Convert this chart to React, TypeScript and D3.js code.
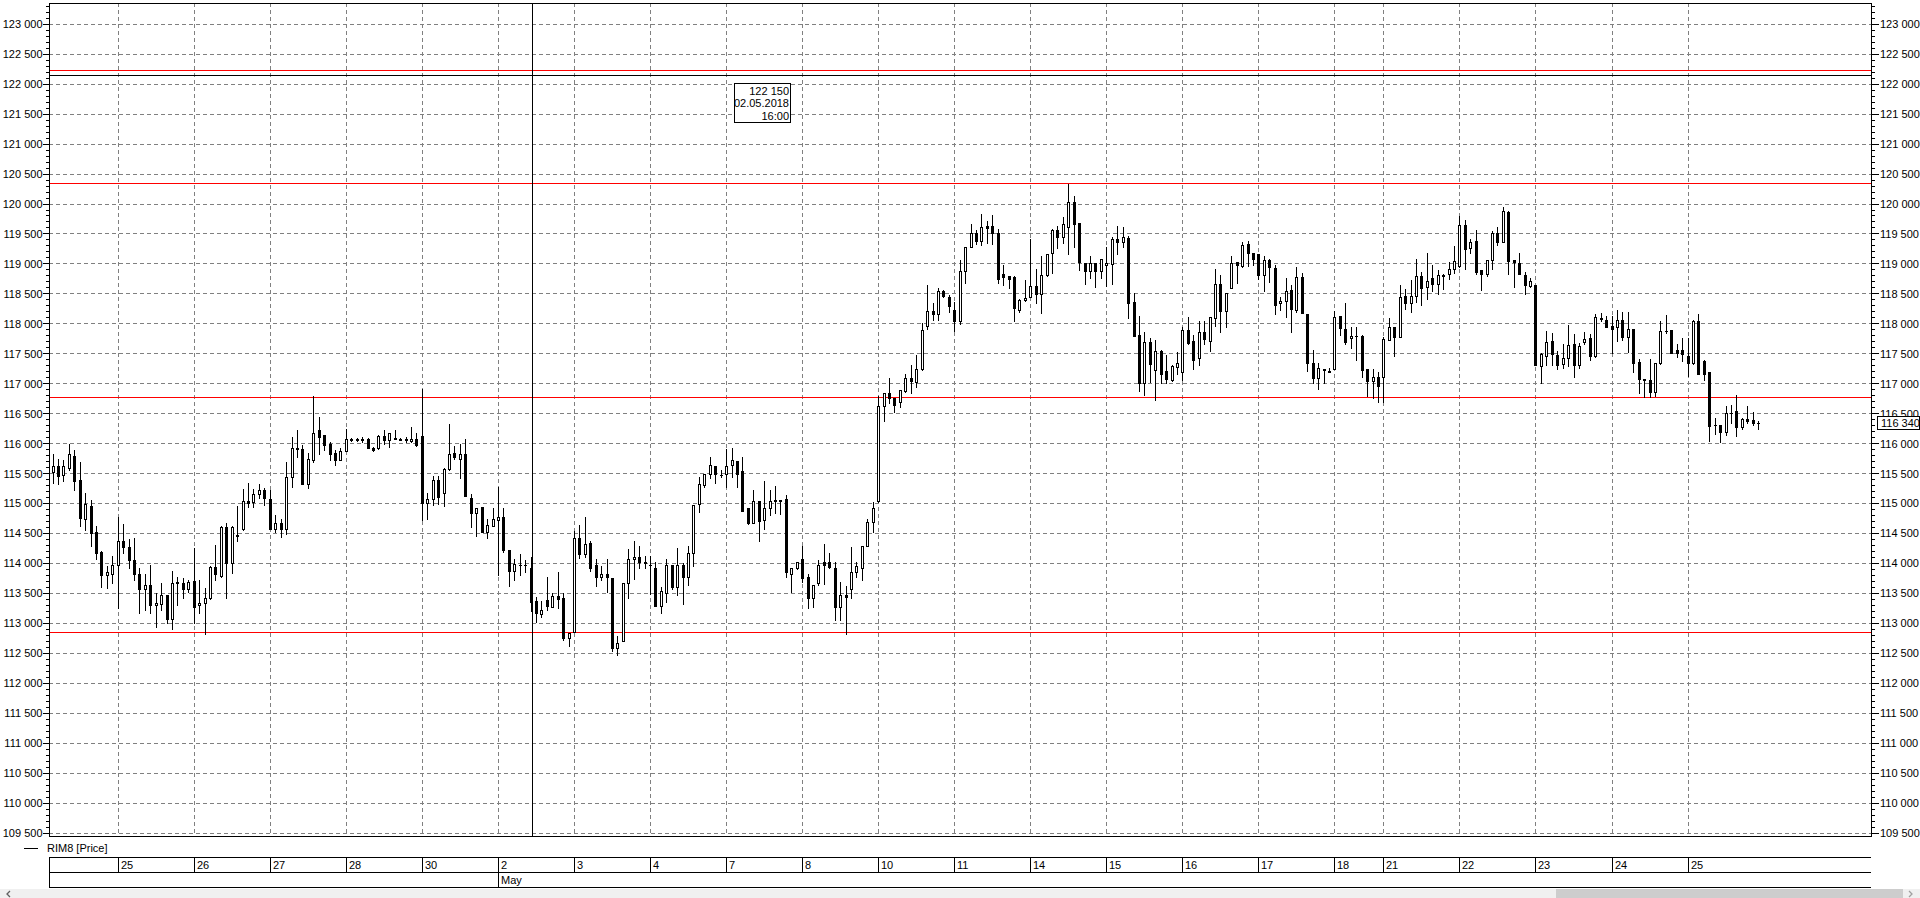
import React from "react";
import * as d3 from "d3";

// ---------- data ----------
const dayLabels = ["24", "25", "26", "27", "28", "30", "2", "3", "4", "7", "8", "10", "11", "14", "15", "16", "17", "18", "21", "22", "23", "24", "25"];
const dayCounts = [12, 14, 14, 14, 14, 14, 14, 14, 14, 14, 14, 14, 14, 14, 14, 14, 14, 9, 14, 14, 14, 14, 14];
const dayShown = [false, true, true, true, true, true, true, true, true, true, true, true, true, true, true, true, true, true, true, true, true, true, true];
const monthNames = ["May"];
const monthStartDay = [6];

// [open, high, low, close] hourly candles
const candles: [number, number, number, number][] = [
  [115520, 115820, 115340, 115620], [115620, 115750, 115320, 115460], [115470, 115720, 115370, 115630], [115600, 116000, 115560, 115820],
  [115790, 115900, 115230, 115370], [115390, 115690, 114630, 114760], [114740, 115180, 114560, 115000], [114960, 115060, 114290, 114510],
  [114530, 114620, 114080, 114180], [114190, 114200, 113610, 113810], [113810, 113960, 113590, 113850], [113830, 114120, 113680, 113970],
  [113970, 114780, 113260, 114370], [114380, 114660, 114180, 114280], [114270, 114400, 113930, 114050], [114050, 114420, 113730, 113820],
  [113820, 113930, 113170, 113580], [113580, 113820, 113220, 113640], [113640, 113970, 113170, 113300], [113300, 113500, 112940, 113340],
  [113330, 113670, 113220, 113470], [113470, 113470, 113000, 113080], [113080, 113870, 112910, 113680], [113680, 113780, 113310, 113690],
  [113680, 113750, 113430, 113580], [113580, 113720, 113530, 113690], [113710, 114260, 113010, 113270], [113300, 113720, 113170, 113340],
  [113340, 113590, 112830, 113420], [113420, 113960, 113400, 113940], [113940, 114310, 113730, 113820], [113790, 114620, 113780, 114600],
  [114600, 114670, 113430, 114000], [114010, 114620, 113840, 114600], [114460, 114960, 114380, 114480], [114570, 115240, 114560, 115050],
  [115050, 115350, 114940, 115010], [115020, 115250, 114940, 115160], [115160, 115320, 115100, 115230], [115230, 115260, 114980, 115100],
  [115070, 115230, 114570, 114580], [114580, 114810, 114530, 114680], [114680, 114740, 114440, 114580], [114580, 115690, 114490, 115440],
  [115440, 116110, 115280, 115930], [115930, 116220, 115780, 115910], [115910, 115970, 115330, 115330], [115330, 115840, 115260, 115740],
  [115730, 116790, 115690, 116180], [116220, 116440, 115820, 116110], [116140, 116140, 115890, 115980], [115990, 116030, 115730, 115830],
  [115840, 115890, 115640, 115720], [115730, 115920, 115720, 115870], [115880, 116250, 115870, 116080], [116060, 116100, 116040, 116070],
  [116070, 116090, 116040, 116060], [116060, 116110, 116030, 116070], [116080, 116090, 115920, 115920], [115920, 115940, 115870, 115890],
  [115920, 116140, 115910, 116130], [116130, 116220, 116000, 116060], [116060, 116180, 115940, 116180], [116080, 116220, 116070, 116090],
  [116070, 116090, 116060, 116065], [116070, 116110, 116030, 116060], [116040, 116270, 116030, 116080], [116080, 116180, 115960, 115970],
  [116120, 116920, 114720, 115010], [115010, 115180, 114740, 115080], [115080, 115460, 114970, 115390], [115400, 115460, 115000, 115110],
  [115170, 115600, 114960, 115580], [115580, 116320, 115560, 115830], [115850, 115960, 115750, 115770], [115750, 116000, 115430, 115830],
  [115830, 116080, 115130, 115130], [115100, 115160, 114610, 114840], [114840, 114930, 114460, 114930], [114940, 114940, 114530, 114530],
  [114520, 114750, 114430, 114640], [114630, 114930, 114630, 114740], [114720, 115280, 113810, 114770], [114770, 114930, 114190, 114220],
  [114220, 114220, 113630, 113880], [113880, 114070, 113720, 113990], [113970, 114160, 113810, 113970], [113970, 114060, 113850, 113980],
  [113930, 114110, 113210, 113360], [113370, 113440, 113030, 113170], [113150, 113370, 113100, 113220], [113390, 113780, 113230, 113290],
  [113280, 113500, 113280, 113460], [113460, 113850, 113250, 113410], [113420, 113500, 112730, 112750], [112760, 112840, 112620, 112840],
  [112860, 114540, 112860, 114430], [114430, 114640, 114090, 114160], [114160, 114770, 114110, 114320], [114340, 114370, 113880, 113930],
  [113970, 114070, 113630, 113780], [113780, 113960, 113720, 113820], [113820, 114070, 113520, 113770], [113750, 113750, 112530, 112590],
  [112590, 112790, 112470, 112670], [112710, 113680, 112710, 113680], [113670, 114240, 113430, 114080], [114080, 114380, 113740, 114100],
  [114110, 114290, 113920, 114030], [114030, 114130, 113930, 114000], [113970, 114130, 113490, 113970], [113930, 114020, 113290, 113290],
  [113290, 113610, 113170, 113540], [113510, 114070, 113360, 113980], [113980, 113980, 113580, 113610], [113610, 114250, 113470, 113970],
  [113970, 114000, 113320, 113770], [113770, 114290, 113640, 114170], [114170, 114970, 113960, 114970], [115000, 115440, 114860, 115320],
  [115310, 115490, 115270, 115490], [115490, 115770, 115420, 115650], [115630, 115630, 115340, 115490], [115480, 115560, 115440, 115480],
  [115490, 115910, 115280, 115630], [115650, 115930, 115440, 115720], [115710, 115710, 115280, 115490], [115540, 115770, 114880, 114880],
  [114920, 114920, 114660, 114670], [114680, 115220, 114680, 115040], [115040, 115040, 114380, 114710], [114720, 115380, 114570, 114930],
  [114920, 115220, 114810, 115040], [115050, 115290, 114850, 115060], [115060, 115060, 114820, 115050], [115070, 115150, 113770, 113860],
  [113830, 113920, 113530, 113920], [113920, 114030, 113910, 114020], [114070, 114290, 113690, 113760], [113770, 113830, 113250, 113420],
  [113420, 113640, 113280, 113640], [113670, 114060, 113640, 113980], [114020, 114320, 113650, 113980], [114020, 114170, 113920, 113940],
  [113920, 114020, 113060, 113270], [113270, 113690, 113060, 113480], [113480, 113620, 112830, 113440], [113570, 114280, 113430, 113850],
  [113850, 114020, 113780, 113960], [113930, 114290, 113730, 114290], [114290, 114750, 114290, 114690], [114690, 115030, 114530, 114930],
  [115040, 116800, 115030, 116620], [116620, 116840, 116370, 116840], [116840, 117090, 116670, 116760], [116760, 116760, 116530, 116640],
  [116690, 116890, 116610, 116890], [116880, 117170, 116870, 117100], [117100, 117310, 116850, 117050], [117030, 117480, 116950, 117240],
  [117240, 118010, 117230, 117890], [117960, 118640, 117920, 118210], [118210, 118340, 118060, 118160], [118160, 118590, 118070, 118540],
  [118540, 118560, 118450, 118460], [118450, 118480, 118200, 118290], [118230, 118370, 117880, 118050], [118050, 119070, 117990, 118880],
  [118880, 119290, 118680, 119290], [119290, 119670, 119290, 119520], [119520, 119570, 119340, 119380], [119380, 119830, 119310, 119620],
  [119630, 119710, 119350, 119600], [119630, 119810, 119340, 119520], [119520, 119590, 118680, 118740], [118840, 118980, 118640, 118780],
  [118790, 118790, 118600, 118750], [118780, 118790, 118040, 118260], [118230, 118410, 118200, 118390], [118390, 118730, 118380, 118430],
  [118450, 119410, 118450, 118630], [118630, 118910, 118340, 118490], [118490, 119130, 118180, 118810], [118810, 119170, 118790, 119160],
  [119190, 119590, 118850, 119560], [119560, 119640, 119270, 119450], [119450, 119780, 119350, 119660], [119620, 120340, 119170, 120040],
  [120040, 120130, 119290, 119670], [119690, 119690, 118900, 119030], [119010, 119010, 118670, 118890], [118890, 119130, 118760, 119010],
  [119010, 119010, 118620, 118890], [118890, 119090, 118770, 119090], [118990, 119290, 118630, 119020], [119000, 119450, 118670, 119410],
  [119410, 119630, 119160, 119370], [119370, 119610, 119280, 119450], [119430, 119470, 118100, 118350], [118360, 118520, 117800, 117800],
  [117810, 118130, 116880, 117010], [117010, 117860, 116810, 117700], [117690, 117770, 117030, 117330], [117230, 117730, 116720, 117540],
  [117540, 117560, 117010, 117170], [117210, 117480, 117010, 117080], [117060, 117310, 117050, 117290], [117280, 117530, 117170, 117340],
  [117200, 117950, 117060, 117890], [117890, 118120, 117660, 117680], [117710, 117810, 117240, 117390], [117430, 118040, 117310, 117860],
  [117860, 118050, 117660, 117740], [117720, 118120, 117540, 118120], [118100, 118910, 117960, 118670], [118660, 118810, 117870, 118220],
  [118220, 118510, 117950, 118510], [118590, 119130, 118590, 119020], [119040, 119040, 118680, 118990], [118970, 119360, 118950, 119320],
  [119340, 119380, 118970, 119180], [119180, 119180, 118990, 119090], [119160, 119160, 118740, 118820], [118820, 119140, 118550, 119060],
  [119060, 119090, 118690, 118950], [118940, 118980, 118170, 118320], [118340, 118450, 118230, 118380], [118380, 118770, 118110, 118550],
  [118560, 118640, 117870, 118240], [118230, 118950, 118200, 118780], [118780, 118850, 118180, 118180], [118170, 118170, 117220, 117350],
  [117350, 117560, 117010, 117090], [117100, 117340, 116910, 117260], [117230, 117250, 117010, 117250], [117200, 117270, 117190, 117220],
  [117240, 118220, 117240, 118120], [118130, 118130, 117810, 117930], [117920, 118340, 117670, 117690], [117760, 117950, 117590, 117800],
  [117800, 117940, 117400, 117805], [117800, 117810, 117110, 117230], [117240, 117240, 116800, 117050], [117050, 117240, 116760, 117110],
  [117110, 117200, 116700, 116970], [117110, 117780, 116700, 117740], [117730, 118090, 117730, 117950], [117950, 117950, 117470, 117780],
  [117780, 118650, 117780, 118440], [118460, 118580, 118250, 118350], [118340, 118730, 118190, 118470], [118470, 119090, 118360, 118800],
  [118800, 118870, 118310, 118600], [118610, 119180, 118410, 118710], [118760, 118980, 118550, 118670], [118670, 118900, 118500, 118810],
  [118820, 118840, 118580, 118800], [118840, 119030, 118740, 118910], [118910, 119300, 118850, 119050], [118960, 119800, 118950, 119650],
  [119650, 119730, 118910, 119250], [119270, 119410, 119180, 119360], [119380, 119560, 118830, 118870], [118900, 118900, 118570, 118840],
  [118840, 119060, 118800, 119060], [119060, 119550, 118910, 119520], [119520, 119620, 119310, 119370], [119370, 119950, 119370, 119880],
  [119860, 119880, 118830, 119050], [119060, 119060, 118620, 119030], [119020, 119190, 118830, 118830], [118810, 118860, 118500, 118650],
  [118630, 118760, 118620, 118720], [118650, 118650, 117310, 117310], [117300, 117510, 117010, 117500], [117470, 117880, 117310, 117690],
  [117710, 117840, 117320, 117500], [117480, 117550, 117240, 117310], [117330, 117660, 117260, 117430], [117430, 117980, 117300, 117650],
  [117660, 117830, 117110, 117320], [117320, 117680, 117260, 117630], [117690, 117870, 117660, 117750], [117760, 117830, 117400, 117460],
  [117460, 118170, 117450, 118110], [118090, 118180, 118050, 118085], [118070, 118130, 117950, 117950], [117960, 118130, 117520, 117920],
  [117940, 118230, 117720, 118070], [118070, 118190, 117730, 117780], [117780, 118190, 117530, 117920], [117910, 117910, 117200, 117350],
  [117360, 117420, 116850, 117080], [117080, 117080, 116780, 117060], [117060, 117410, 116780, 116870], [116870, 117340, 116800, 117340],
  [117340, 118050, 117330, 117880], [117880, 118150, 117850, 117875], [117900, 117900, 117510, 117520], [117560, 117670, 117440, 117520],
  [117570, 117760, 117380, 117490], [117460, 117760, 117130, 117350], [117340, 118060, 117330, 118050], [118050, 118170, 117170, 117170],
  [117380, 117400, 117070, 117170], [117200, 117200, 116050, 116300], [116310, 116420, 116160, 116305], [116310, 116310, 116030, 116200],
  [116200, 116630, 116150, 116510], [116510, 116650, 116340, 116505], [116550, 116820, 116120, 116270], [116270, 116430, 116240, 116410],
  [116410, 116630, 116340, 116380], [116400, 116520, 116310, 116340], [116340, 116380, 116240, 116340],
];

const levelLines = [122230, 120340, 116770, 112850];
const crosshairPrice = 122150;
const crosshairSlot = 88.3;
const tooltipLines = ["122 150", "02.05.2018", "16:00"];
const lastPrice = 116340;
const seriesName = "RIM8 [Price]";
const yTickStep = 500;
const yMinorStep = 100;

// ---------- layout ----------
const W = 1920;
const H = 898;
const PL = 49, PR = 1871, PT = 3, PB = 836;
const FONT = "'Liberation Sans', Arial, sans-serif";

const ruLocale = d3.formatLocale({ decimal: ".", thousands: " ", grouping: [3], currency: ["", ""] });
const fmt = ruLocale.format(",d");

export default function App() {
  const n = candles.length;
  const x = d3.scaleLinear().domain([0, n - 1]).range([52.5, 52.5 + (n - 1) * 5.4322]);
  const y = d3.scaleLinear().domain([109450, 123347]).range([PB, 24.3 - 347 * 0.059905]);

  const starts = Array.from(d3.cumsum([0, ...dayCounts])).slice(0, dayCounts.length);
  const px = (i: number) => Math.round(x(i)) + 0.5;
  const py = (v: number) => Math.floor(y(v)) + 0.5;

  const [yLo, yHi] = y.domain();
  const majors = d3.range(Math.ceil(yLo / yTickStep) * yTickStep, yHi, yTickStep);
  const minors = d3.range(Math.ceil(yLo / yMinorStep) * yMinorStep, yHi, yMinorStep);

  const rowTop = 857.5, rowMid = 872.5, rowBot = 887.5;

  return (
    <svg
      width={W}
      height={H}
      style={{ position: "absolute", left: 0, top: 0, background: "#fff" }}
      fontFamily={FONT}
      fontSize={11}
    >
      <rect x={0} y={0} width={W} height={H} fill="#fff" />

      {/* grid */}
      <g stroke="#808080" strokeDasharray="4,3" shapeRendering="crispEdges">
        {majors.map((v) => (
          <line key={"h" + v} x1={PL} x2={PR} y1={py(v)} y2={py(v)} />
        ))}
        {starts.map((s, k) =>
          dayShown[k] ? <line key={"v" + k} x1={px(s)} x2={px(s)} y1={PT} y2={PB} /> : null
        )}
      </g>

      {/* level lines */}
      <g shapeRendering="crispEdges">
        {levelLines.map((v) => (
          <line key={"l" + v} x1={PL} x2={PR} y1={py(v)} y2={py(v)} stroke="#ff0000" />
        ))}
        <line x1={PL} x2={PR} y1={py(crosshairPrice)} y2={py(crosshairPrice)} stroke="#000" />
        <line x1={px(crosshairSlot)} x2={px(crosshairSlot)} y1={PT} y2={PB} stroke="#000" />
      </g>

      {/* candles */}
      <g shapeRendering="crispEdges">
        {candles.map(([o, h, l, c], i) => {
          const cx = Math.round(x(i));
          const yo = Math.round(y(o));
          const yc = Math.round(y(c));
          const yh = Math.round(y(h));
          const yl = Math.round(y(l));
          const up = c >= o;
          const top = Math.min(yo, yc);
          const bot = Math.max(yo, yc);
          return (
            <g key={i}>
              <line x1={cx + 0.5} x2={cx + 0.5} y1={yh} y2={yl + 1} stroke="#000" />
              {bot - top >= 1 ? (
                <rect x={cx - 0.5} y={top + 0.5} width={2} height={bot - top} fill={up ? "#fff" : "#000"} stroke="#000" />
              ) : (
                <line x1={cx - 1} x2={cx + 2} y1={top + 0.5} y2={top + 0.5} stroke="#000" />
              )}
            </g>
          );
        })}
      </g>

      {/* plot frame */}
      <rect x={PL + 0.5} y={PT + 0.5} width={PR - PL} height={PB - PT} fill="none" stroke="#000" shapeRendering="crispEdges" />

      {/* y axes */}
      <g stroke="#000" shapeRendering="crispEdges">
        {minors.map((v) => (
          <g key={"m" + v}>
            <line x1={PL - 3} x2={PL} y1={py(v)} y2={py(v)} />
            <line x1={PR + 1} x2={PR + 4} y1={py(v)} y2={py(v)} />
          </g>
        ))}
        {majors.map((v) => (
          <g key={"M" + v}>
            <line x1={PL - 6} x2={PL} y1={py(v)} y2={py(v)} />
            <line x1={PR + 1} x2={PR + 8} y1={py(v)} y2={py(v)} />
          </g>
        ))}
      </g>
      <g fill="#000">
        {majors.map((v) => (
          <g key={"t" + v}>
            <text x={42.5} y={y(v)} dy="0.36em" textAnchor="end">{fmt(v)}</text>
            <text x={1880} y={y(v)} dy="0.36em">{fmt(v)}</text>
          </g>
        ))}
      </g>

      {/* last price box */}
      <rect x={1877.5} y={Math.round(y(lastPrice)) - 6.5} width={42} height={13} fill="#fff" stroke="#000" shapeRendering="crispEdges" />
      <text x={1881} y={y(lastPrice)} dy="0.36em">{fmt(lastPrice)}</text>

      {/* tooltip */}
      <rect x={734.5} y={83.5} width={56} height={39} fill="#fff" stroke="#000" shapeRendering="crispEdges" />
      {tooltipLines.map((t, k) => (
        <text key={t} x={789} y={90.7 + k * 12.7} dy="0.36em" textAnchor="end">{t}</text>
      ))}

      {/* legend */}
      <line x1={24} x2={38} y1={848.5} y2={848.5} stroke="#000" shapeRendering="crispEdges" />
      <text x={47} y={848} dy="0.36em">{seriesName}</text>

      {/* date axis */}
      <g stroke="#000" shapeRendering="crispEdges">
        <line x1={PL} x2={PR} y1={rowTop} y2={rowTop} />
        <line x1={PL} x2={PR} y1={rowMid} y2={rowMid} />
        <line x1={PL} x2={PR} y1={rowBot} y2={rowBot} />
        <line x1={PL + 0.5} x2={PL + 0.5} y1={rowTop} y2={rowBot} />
        {starts.map((s, k) =>
          dayShown[k] ? <line key={"ds" + k} x1={px(s)} x2={px(s)} y1={rowTop} y2={rowMid} /> : null
        )}
        {monthStartDay.map((d, k) => (
          <line key={"ms" + k} x1={px(starts[d])} x2={px(starts[d])} y1={rowMid} y2={rowBot} />
        ))}
      </g>
      <g fill="#000">
        {starts.map((s, k) =>
          dayShown[k] ? (
            <text key={"dl" + k} x={px(s) + 2.5} y={865} dy="0.36em">{dayLabels[k]}</text>
          ) : null
        )}
        {monthStartDay.map((d, k) => (
          <text key={"ml" + k} x={px(starts[d]) + 2.5} y={880} dy="0.36em">{monthNames[k]}</text>
        ))}
      </g>

      {/* scrollbar */}
      <rect x={0} y={889} width={W} height={9} fill="#f0f0f0" />
      <rect x={1556} y={889} width={347} height={9} fill="#cdcdcd" />
      <path d="M10,891 L7,894 L10,897" fill="none" stroke="#606060" strokeWidth={1.3} />
      <path d="M1909,891 L1912,894 L1909,897" fill="none" stroke="#a0a0a0" strokeWidth={1.3} />
    </svg>
  );
}
